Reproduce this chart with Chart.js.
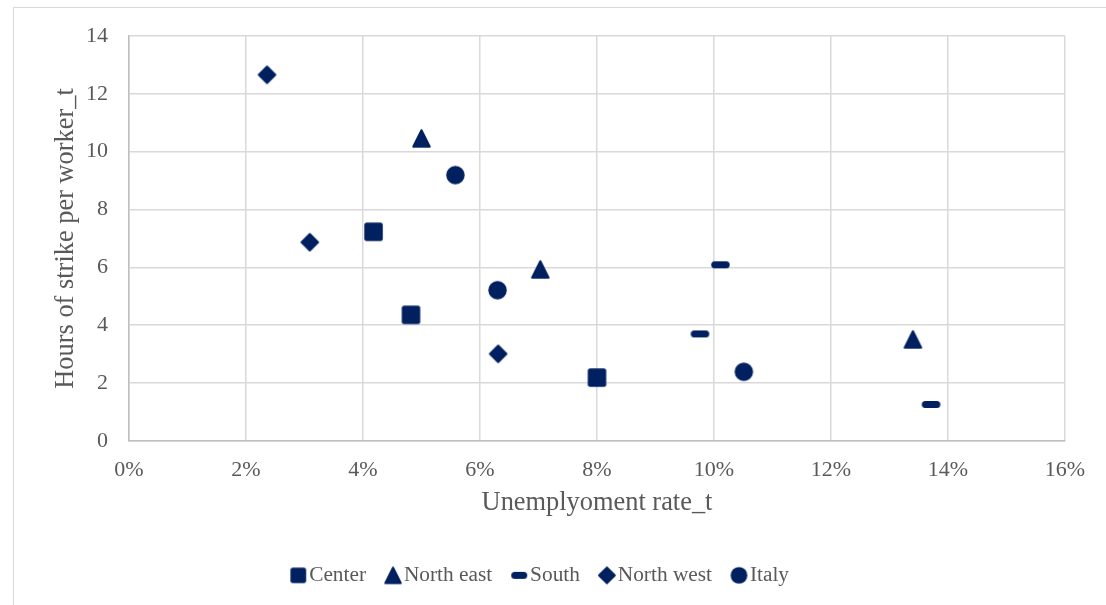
<!DOCTYPE html>
<html>
<head>
<meta charset="utf-8">
<title>Strike hours vs unemployment</title>
<script src="https://cdn.jsdelivr.net/npm/chart.js@4.4.1/dist/chart.umd.min.js"></script>
<style>
    html, body { margin: 0; padding: 0; background: #fff; overflow: hidden; }
    #frame { position: absolute; left: 13px; top: 7px; width: 1200px; height: 700px; border: 1px solid #d9d9d9; }
    #chartBox { position: absolute; left: 0; top: 0; width: 1106px; height: 605px; }
</style>
</head>
<body>
<div id="frame"></div>
<div id="chartBox"><canvas id="scatterChart" width="1106" height="605"></canvas></div>
<script>

    // DATA (x = unemployment rate in %, y = hours of strike per worker)
    const seriesNames = ["Center", "North east", "South", "North west", "Italy"];

    const centerX = [4.18, 4.82, 8.00];
    const centerY = [7.23, 4.36, 2.19];

    const northEastX = [5.00, 7.03, 13.40];
    const northEastY = [10.46, 5.93, 3.51];

    const southX = [10.11, 9.76, 13.71];
    const southY = [6.09, 3.70, 1.26];

    const northWestX = [2.36, 3.09, 6.31];
    const northWestY = [12.66, 6.87, 3.01];

    const italyX = [5.58, 6.30, 10.51];
    const italyY = [9.19, 5.21, 2.39];

    const xTicks = [0, 2, 4, 6, 8, 10, 12, 14, 16];
    const yTicks = [0, 2, 4, 6, 8, 10, 12, 14];

    const NAVY = "#002060";
    const TEXT = "#595959";
    const FONT = "'Liberation Serif', 'Times New Roman', serif";

    //MARKERS

    // draws one marker shape on a small canvas so it can be used as a pointStyle
    function markerCanvas(shape, s) {
        let w = Math.round(s) + 2;
        let h = shape === "dash" ? 9 : w;
        let c = document.createElement("canvas");
        c.width = w;
        c.height = h;
        let g = c.getContext("2d");
        g.fillStyle = NAVY;
        g.strokeStyle = NAVY;
        g.lineWidth = 2;
        g.lineJoin = "round";
        let cx = w / 2, cy = h / 2, r = s / 2 - 1;

        g.beginPath();
        if (shape === "square") {
            g.roundRect(cx - s / 2, cy - s / 2, s, s, 2.5);
            g.fill();
            return c;
        } else if (shape === "dash") {
            g.roundRect(cx - s / 2, cy - 3.6, s, 7.2, 3.5);
            g.fill();
            return c;
        } else if (shape === "circle") {
            g.arc(cx, cy, s / 2, 0, Math.PI * 2);
            g.fill();
            return c;
        } else if (shape === "triangle") {
            g.moveTo(cx, cy - r);
            g.lineTo(cx + r, cy + r);
            g.lineTo(cx - r, cy + r);
        } else if (shape === "diamond") {
            g.moveTo(cx, cy - r);
            g.lineTo(cx + r, cy);
            g.lineTo(cx, cy + r);
            g.lineTo(cx - r, cy);
        }
        g.closePath();
        g.fill();
        g.stroke();
        return c;
    }

    const shapes = ["square", "triangle", "dash", "diamond", "circle"];
    const legendSizes = [15.7, 17.5, 16, 17.8, 16.7];
    const plotMarkers = shapes.map(s => markerCanvas(s, 18.5));
    const legendMarkers = shapes.map((s, i) => markerCanvas(s, legendSizes[i]));

    function toPoints(xs, ys) {
        return xs.map((x, i) => ({ x: x, y: ys[i] }));
    }

    const seriesData = [
        toPoints(centerX, centerY),
        toPoints(northEastX, northEastY),
        toPoints(southX, southY),
        toPoints(northWestX, northWestY),
        toPoints(italyX, italyY)
    ];

    //CHART

    let ctx = document.getElementById("scatterChart").getContext("2d");

    let scatterChart = new Chart(ctx, {
        type: "scatter",
        data: {
            datasets: seriesNames.map((name, i) => ({
                label: name,
                data: seriesData[i],
                pointStyle: plotMarkers[i],
                backgroundColor: NAVY,
                borderColor: NAVY
            }))
        },
        options: {
            responsive: false,
            animation: false,
            layout: { padding: { left: 22, top: 36, right: 41, bottom: 9 } },
            plugins: {
                tooltip: { enabled: false },
                legend: {
                    position: "bottom",
                    labels: {
                        usePointStyle: true,
                        pointStyleWidth: 0.5,
                        padding: 26.75,
                        color: TEXT,
                        font: { family: FONT, size: 21.33 },
                        generateLabels(chart) {
                            let items = Chart.defaults.plugins.legend.labels.generateLabels(chart);
                            items.forEach((item, i) => { item.pointStyle = legendMarkers[i]; });
                            return items;
                        }
                    }
                }
            },
            scales: {
                x: {
                    type: "linear",
                    min: 0,
                    max: 16,
                    afterBuildTicks: scale => { scale.ticks = xTicks.map(v => ({ value: v })); },
                    afterFit: scale => { scale.height = 97; },
                    grid: { color: "#d9d9d9", lineWidth: 1.5, drawTicks: false },
                    border: { color: "#bfbfbf", width: 1.5 },
                    ticks: {
                        padding: 16,
                        color: TEXT,
                        font: { family: FONT, size: 22 },
                        callback: v => v + "%"
                    },
                    title: {
                        display: true,
                        text: "Unemplyoment rate_t",
                        color: TEXT,
                        font: { family: FONT, size: 26.4 },
                        padding: { top: 0, bottom: 19 }
                    }
                },
                y: {
                    min: 0,
                    max: 14,
                    afterBuildTicks: scale => { scale.ticks = yTicks.map(v => ({ value: v })); },
                    afterFit: scale => { scale.width = 107; },
                    grid: { color: "#d9d9d9", lineWidth: 1.5, drawTicks: false },
                    border: { color: "#bfbfbf", width: 1.5 },
                    ticks: {
                        padding: 21,
                        color: TEXT,
                        font: { family: FONT, size: 22 }
                    },
                    title: {
                        display: true,
                        text: "Hours of strike per worker_t",
                        color: TEXT,
                        font: { family: FONT, size: 26.4 },
                        padding: { top: 28, bottom: 0 }
                    }
                }
            }
        }
    });

</script>
</body>
</html>
